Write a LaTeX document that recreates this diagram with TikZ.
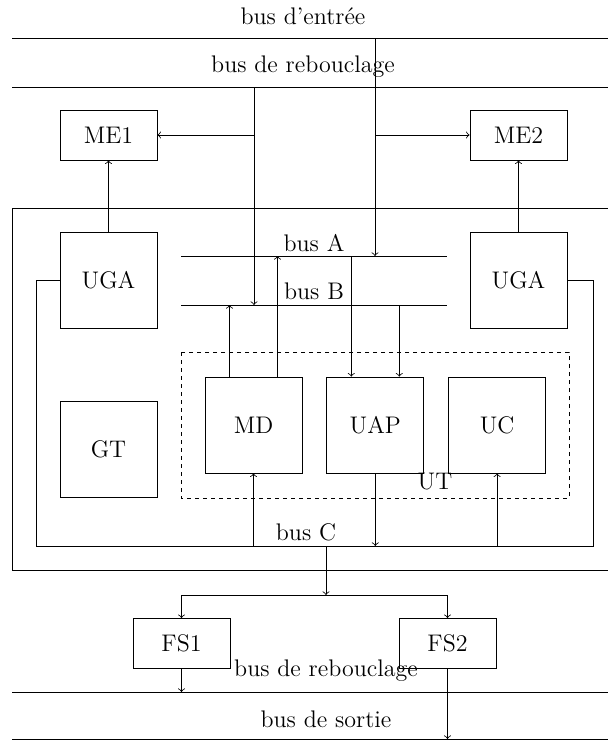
\documentclass[tikz,border=0pt]{standalone}
\usepackage{tikz}
\usetikzlibrary{positioning}
\begin{document}
\begin{tikzpicture}[x=0.5pt,y=-0.5pt,>=to,thin,font=\large,
      unit node/.style={draw,minimum width=48.5pt,minimum height=48pt,inner sep=0pt},
      mem node/.style={draw,minimum width=48.5pt,minimum height=25pt,inner sep=0pt},
      bus label/.style={inner sep=1pt}]
      \useasboundingbox (0,0) rectangle (607,740);

      % bus lines
      \coordinate (eL) at (12,38);  \coordinate (eR) at (612,38);
      \coordinate (rL) at (12,87);  \coordinate (rR) at (612,87);
      \coordinate (sL) at (12,692); \coordinate (sR) at (612,692);
      \coordinate (oL) at (12,739); \coordinate (oR) at (612,739);
      \draw (eL) -- (eR);
      \draw (rL) -- (rR);
      \draw (sL) -- (sR);
      \draw (oL) -- (oR);
      \node[bus label] (ein) at (303,16) {bus d'entrée};
      \node[bus label] (reb) at (303,67) {bus de rebouclage};
      \node[bus label] (reb2) at (326,671) {bus de rebouclage};
      \node[bus label] (sortie) at (326,719) {bus de sortie};

      % the chip
      \draw (12,208) rectangle (612,570);
      \draw[dashed,dash pattern=on 2pt off 2pt] (181,352) rectangle (569,498);

      \node[mem node] (me1) at (108.5,135) {ME1};
      \node[mem node] (me2) at (518.5,135) {ME2};
      \node[unit node] (uga1) at (108.5,280) {UGA};
      \node[unit node] (uga2) at (518.5,280) {UGA};
      \node[unit node] (gt) at (108.5,449) {GT};
      \node[unit node] (md) at (253.5,425) {MD};
      \node[unit node] (uap) [right=12pt of md] {UAP};
      \node[unit node] (uc) [right=12pt of uap] {UC};
      \node[mem node] (fs1) at (181.5,643.5) {FS1};
      \node[mem node] (fs2) at (447.5,643.5) {FS2};

      \node[bus label] (busA) at (314,243) {bus A};
      \node[bus label] (busB) at (314,291) {bus B};
      \node[bus label] (busC) at (306,532) {bus C};
      \node[bus label] (ut) at (435,482) {UT};

      % internal buses
      \coordinate (aL) at (181,256); \coordinate (aR) at (447,256);
      \coordinate (bL) at (181,305); \coordinate (bR) at (447,305);
      \coordinate (cL) at (36,546);  \coordinate (cR) at (593,546);
      \draw (aL) -- (aR);
      \draw (bL) -- (bR);
      \draw (uga1.west) -| (cL) -- (cR) |- (uga2.east);

      \coordinate (rIn) at (254,87);
      \coordinate (eIn) at (375,38);
      \coordinate (cOut) at (326,546);
      \coordinate (split) at (326,595);

      \path[->]
        (rIn) edge (rIn |- bL)
        (eIn) edge (eIn |- aL)
        (rIn |- me1.east) edge (me1.east)
        (eIn |- me2.west) edge (me2.west)
        (uga1) edge (me1)
        (uga2) edge (me2)
        ([xshift=-12pt]md.north) edge ([xshift=-12pt]md.north |- bL)
        ([xshift=12pt]md.north) edge ([xshift=12pt]md.north |- aL)
        ([xshift=-12pt]uap.north |- aL) edge ([xshift=-12pt]uap.north)
        ([xshift=12pt]uap.north |- bL) edge ([xshift=12pt]uap.north)
        (md.south |- cL) edge (md.south)
        (uap.south) edge (uap.south |- cL)
        (uc.south |- cL) edge (uc.south)
        (cOut) edge (split)
        (split) edge [-to,to path={-| (\tikztotarget)}] (fs1.north)
        (split) edge [-to,to path={-| (\tikztotarget)}] (fs2.north)
        (fs1.south) edge (fs1.south |- sL)
        (fs2.south) edge (fs2.south |- oL);
    \end{tikzpicture}
\end{document}
